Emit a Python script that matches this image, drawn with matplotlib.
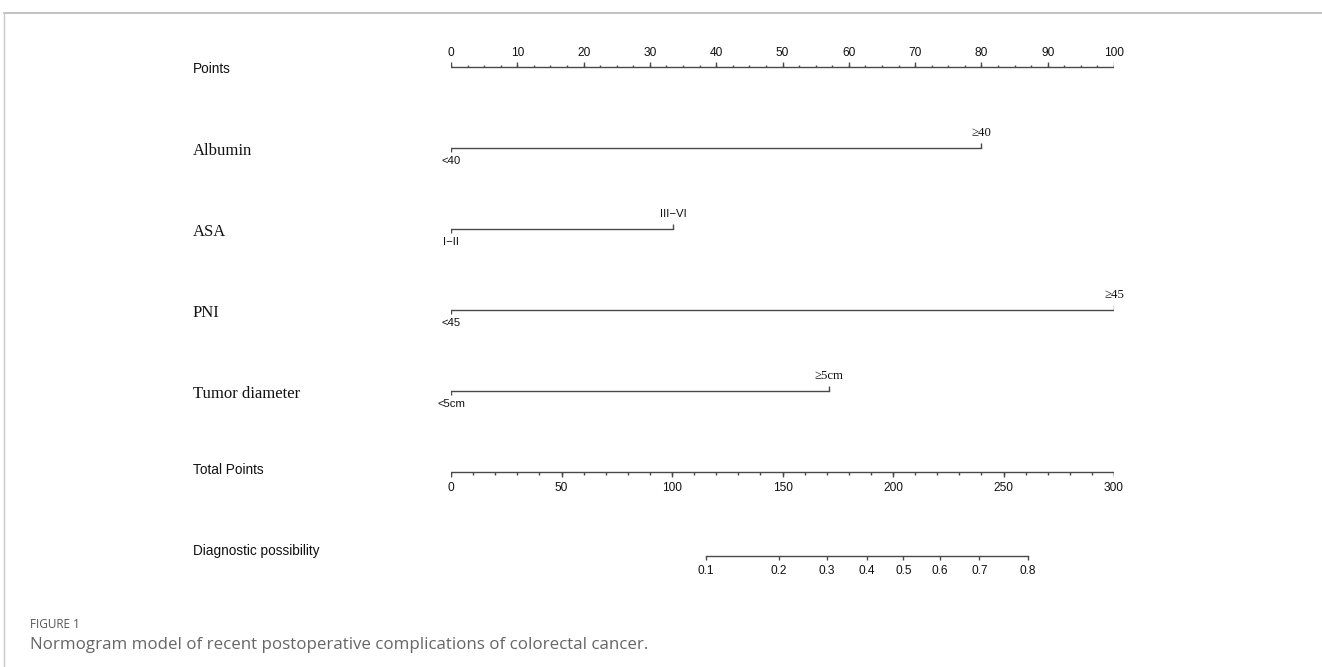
"""
Nomogram for recent postoperative complications of colorectal cancer.
Saves out.png (1322x667).
"""

import numpy as np
import matplotlib
matplotlib.use("Agg")
import matplotlib.pyplot as plt

# ---- data ----
variables = ["Albumin", "ASA", "PNI", "Tumor diameter"]
low_labels = ["<40", "I\u2212II", "<45", "<5cm"]
high_labels = ["\u226540", "III\u2212VI", "\u226545", "\u22655cm"]
low_points = [0, 0, 0, 0]
high_points = [80, 33.5, 100, 57]
high_serif = [True, False, True, True]     # these labels were set in Times

points_ticks = np.arange(0, 101, 10)
points_minor = np.arange(0, 101, 2.5)
total_ticks = np.arange(0, 301, 50)
total_minor = np.arange(0, 301, 10)
prob_ticks = [0.1, 0.2, 0.3, 0.4, 0.5, 0.6, 0.7, 0.8]

# linear predictor = b0 + b1 * total points
b0, b1 = -5.037, 0.02461

# ---- layout (pixels) ----
W, H = 1322, 667
x0, x1 = 451, 1114                 # scale extent
label_x = 193
row_y = {"Points": 67, "Albumin": 148, "ASA": 229, "PNI": 310,
         "Tumor diameter": 391, "Total Points": 472, "Diagnostic possibility": 556}

SANS = "Liberation Sans"
SERIF = "Liberation Serif"
LINE = "#4a4a4a"
TXT = "#111111"

fig = plt.figure(figsize=(W / 100, H / 100), dpi=100)

# canvas in pixel coordinates for labels and frame
canvas = fig.add_axes([0, 0, 1, 1])
canvas.set_xlim(0, W)
canvas.set_ylim(H, 0)
canvas.axis("off")


def scale_axes():
    ax = fig.add_axes([x0 / W, 0, (x1 - x0) / W, 1])
    ax.set_ylim(H, 0)
    ax.axis("off")
    ax.patch.set_alpha(0)
    return ax


ax_pts = scale_axes()
ax_pts.set_xlim(0, 100)
ax_tot = scale_axes()
ax_tot.set_xlim(0, 300)
ax_prob = scale_axes()
ax_prob.set_xscale("logit")
expit = lambda z: 1 / (1 + np.exp(-z))
ax_prob.set_xlim(expit(b0), expit(b0 + b1 * 300))

lw = 1.0
tick_fs = 8.6

# Points scale (ticks up, labels above)
y = row_y["Points"]
ax_pts.plot([0, 100], [y, y], color=LINE, lw=lw)
ax_pts.vlines(points_minor, y - 2.5, y, color=LINE, lw=lw)
ax_pts.vlines(points_ticks, y - 5, y, color=LINE, lw=lw)
for t in points_ticks:
    ax_pts.text(t, y - 14, f"{t:g}", ha="center", va="center",
                fontsize=tick_fs, family=SANS, color=TXT)
canvas.text(label_x, y + 2, "Points", ha="left", va="center",
            fontsize=9.8, family=SANS, color=TXT)

# predictor rows
for name, lo_lab, hi_lab, lo, hi, serif in zip(variables, low_labels, high_labels,
                                               low_points, high_points, high_serif):
    y = row_y[name]
    ax_pts.plot([lo, hi], [y, y], color=LINE, lw=lw)
    ax_pts.vlines(lo, y, y + 4, color=LINE, lw=lw)
    ax_pts.vlines(hi, y - 5, y, color=LINE, lw=lw)
    ax_pts.text(lo, y + 13, lo_lab, ha="center", va="center",
                fontsize=8.2, family=SANS, color=TXT)
    ax_pts.text(hi, y - 15, hi_lab, ha="center", va="center",
                fontsize=9.2 if serif else 8.2, family=SERIF if serif else SANS,
                color=TXT)
    canvas.text(label_x, y + 3, name, ha="left", va="center",
                fontsize=12, family=SERIF, color=TXT)

# Total points scale (ticks down, labels below)
y = row_y["Total Points"]
ax_tot.plot([0, 300], [y, y], color=LINE, lw=lw)
ax_tot.vlines(total_minor, y, y + 3, color=LINE, lw=lw)
ax_tot.vlines(total_ticks, y, y + 5, color=LINE, lw=lw)
for t in total_ticks:
    ax_tot.text(t, y + 16, f"{t:g}", ha="center", va="center",
                fontsize=tick_fs, family=SANS, color=TXT)
canvas.text(label_x, y - 2, "Total Points", ha="left", va="center",
            fontsize=9.8, family=SANS, color=TXT)

# probability scale on logit axis
y = row_y["Diagnostic possibility"]
ax_prob.plot([prob_ticks[0], prob_ticks[-1]], [y, y], color=LINE, lw=lw)
ax_prob.vlines(prob_ticks, y, y + 4, color=LINE, lw=lw)
for p in prob_ticks:
    ax_prob.text(p, y + 15, f"{p:g}", ha="center", va="center",
                 fontsize=tick_fs, family=SANS, color=TXT)
canvas.text(label_x, y - 5, "Diagnostic possibility", ha="left", va="center",
            fontsize=9.8, family=SANS, color=TXT)

# page frame and caption
canvas.plot([4, W], [13, 13], color="#b8b8b8", lw=1.2)
canvas.plot([4, 4], [13, H], color="#c8c8c8", lw=1.0)
canvas.text(30, 624, "FIGURE 1", ha="left", va="center",
            fontsize=8.5, family="Open Sans", color="#555555")
canvas.text(30, 645, "Normogram model of recent postoperative complications of colorectal cancer.",
            ha="left", va="center", fontsize=12.2, family="Open Sans", color="#666666")

fig.savefig("out.png", dpi=100)
plt.close(fig)
